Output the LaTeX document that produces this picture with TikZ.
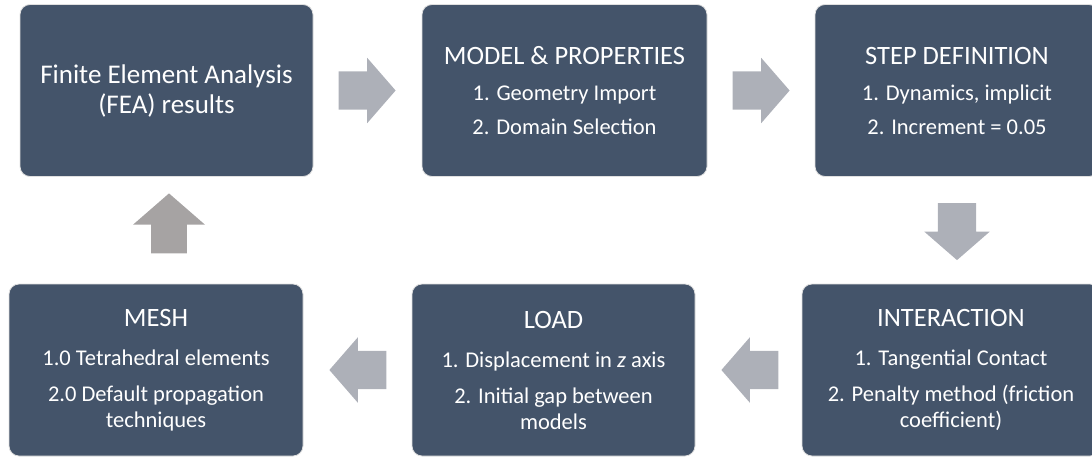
\documentclass[tikz,border=0pt]{standalone}
\usepackage{fontspec}
\setmainfont{Carlito}
\usepackage{tikz}
\usetikzlibrary{shapes.arrows, calc}

\definecolor{stageblue}{HTML}{44546A}
\definecolor{arrowgray}{HTML}{ADB0B8}
\definecolor{backgray}{HTML}{A6A3A3}
\newcommand{\stagehead}[1]{{\fontsize{26.5}{28}\selectfont #1}}

\begin{document}
\begin{tikzpicture}[
    x=1pt, y=-1pt,
    stage/.style={rectangle, rounded corners=10pt, fill=stageblue, draw=black!12, line width=0.8pt,
        text=white, align=center, inner sep=0pt, minimum height=172pt,
        font=\fontsize{22.5}{26}\selectfont},
    flow/.style={single arrow, fill=arrowgray, draw=none, inner xsep=0pt, inner ysep=19pt,
        minimum width=65pt, minimum height=57pt, single arrow head extend=13.5pt,
        single arrow tip angle=98, anchor=tail}
]
\useasboundingbox (0,0) rectangle (1092,456);

% Top row
\node[stage, minimum width=293pt, font=\fontsize{27}{30}\selectfont] (fea) at (166.5,90.5)
    {Finite Element Analysis\\(FEA) results};
\node[stage, minimum width=285pt] (model) at (564.5,90.5)
    {\stagehead{MODEL \& PROPERTIES}\\[10pt] 1. Geometry Import\\[8pt] 2. Domain Selection};
\node[stage, minimum width=284pt] (step) at (957,90.5)
    {\stagehead{STEP DEFINITION}\\[10pt] 1. Dynamics, implicit\\[8pt] 2. Increment = 0.05};

% Bottom row
\node[stage, minimum width=294pt] (mesh) at (156,370)
    {\stagehead{MESH}\\[13pt] 1.0 Tetrahedral elements\\[10pt] 2.0 Default propagation\\techniques};
\node[stage, minimum width=283pt] (load) at (553.5,370)
    {\stagehead{LOAD}\\[13pt] 1. Displacement in \textit{z} axis\\[10pt] 2. Initial gap between\\models};
\node[stage, minimum width=298pt] (inter) at (951,370)
    {\stagehead{INTERACTION}\\[13pt] 1. Tangential Contact\\[10pt] 2. Penalty method (friction\\coefficient)};

% Block arrows between the stages
\node[flow] (a1) at ($(fea.east)+(25,0)$) {};
\node[flow] (a2) at ($(model.east)+(25,0)$) {};
\node[flow, rotate=-90] (a3) at ($(step.south)+(0,26)$) {};
\node[flow, rotate=180] (a4) at ($(inter.west)+(-23,0)$) {};
\node[flow, rotate=180] (a5) at ($(load.west)+(-25,0)$) {};
\node[flow, rotate=90, fill=backgray, inner ysep=17.5pt, minimum width=72pt,
    minimum height=60pt, single arrow head extend=18pt] (a6) at ($(mesh.north)+(13,-30)$) {};

\end{tikzpicture}
\end{document}
